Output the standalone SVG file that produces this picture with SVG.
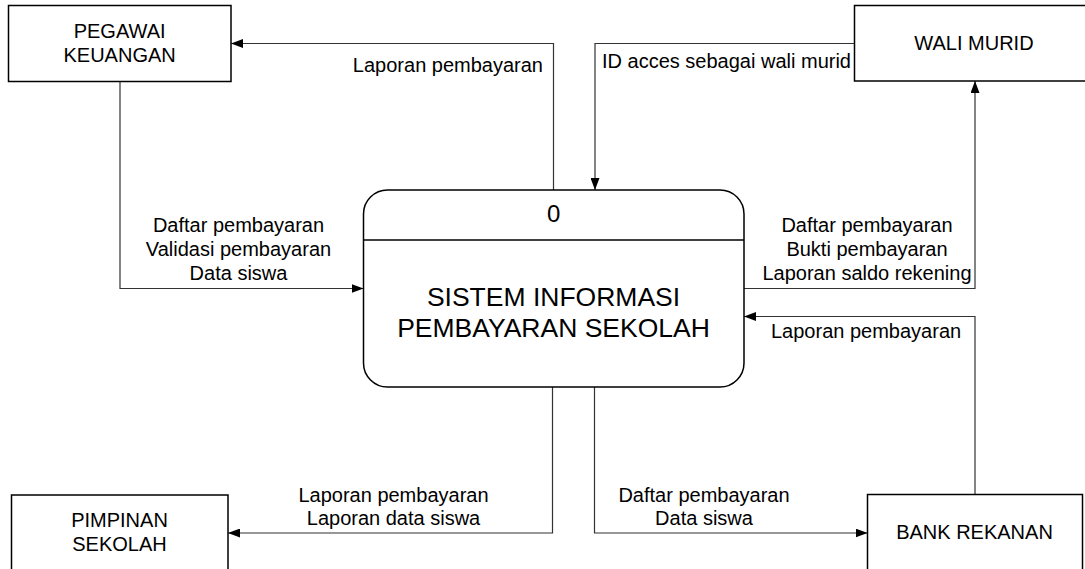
<svg xmlns="http://www.w3.org/2000/svg" width="1085" height="569" viewBox="0 0 1085 569">
  <style>
    .box { fill: #ffffff; stroke: #000000; stroke-width: 1.5; }
    .flow { fill: none; stroke: #333333; stroke-width: 1.2; marker-end: url(#arrow); }
    .lbl { font-family: "Liberation Sans", Arial, sans-serif; font-size: 20px; fill: #000000; }
    .mid { text-anchor: middle; }
    .proc { font-family: "Liberation Sans", Arial, sans-serif; font-size: 26.5px; fill: #000000; text-anchor: middle; }
  </style>
  <defs>
    <marker id="arrow" markerUnits="userSpaceOnUse" markerWidth="12" markerHeight="9" refX="12" refY="4.5" orient="auto">
      <path d="M0,0 L12,4.5 L0,9 Z" fill="#000000"/>
    </marker>
  </defs>

  <rect width="1085" height="569" fill="#ffffff"/>

  <!-- data flows -->
  <g id="connectors">
    <path class="flow" d="M553.5,190 V43.5 H231"/>
    <path class="flow" d="M854.5,43.5 H595 V190"/>
    <path class="flow" d="M120,82 V288.5 H363.5"/>
    <path class="flow" d="M744,288.5 H975 V81"/>
    <path class="flow" d="M975,494.5 V316.5 H744"/>
    <path class="flow" d="M552.5,387 V533 H228"/>
    <path class="flow" d="M594.5,387 V533 H867.5"/>

    <text class="lbl" x="543" y="72.3" text-anchor="end">Laporan pembayaran</text>
    <text class="lbl" x="602" y="68.3">ID acces sebagai wali murid</text>

    <text class="lbl mid" x="238.5" y="232.3">Daftar pembayaran</text>
    <text class="lbl mid" x="238.5" y="256">Validasi pembayaran</text>
    <text class="lbl mid" x="238.5" y="280">Data siswa</text>

    <text class="lbl mid" x="867" y="232.3">Daftar pembayaran</text>
    <text class="lbl mid" x="867" y="256">Bukti pembayaran</text>
    <text class="lbl mid" x="867" y="280">Laporan saldo rekening</text>

    <text class="lbl" x="771" y="338.3">Laporan pembayaran</text>

    <text class="lbl mid" x="393.5" y="501.7">Laporan pembayaran</text>
    <text class="lbl mid" x="393.5" y="525">Laporan data siswa</text>

    <text class="lbl mid" x="704" y="501.7">Daftar pembayaran</text>
    <text class="lbl mid" x="704" y="525">Data siswa</text>
  </g>

  <!-- process 0 -->
  <g id="process-0">
    <rect class="box" x="363.5" y="190" width="380.5" height="197" rx="24" ry="24"/>
    <line x1="363.5" y1="240" x2="744" y2="240" stroke="#000000" stroke-width="1.5"/>
    <text class="proc" x="553.7" y="221.7" style="font-size:24px">0</text>
    <text class="proc" x="553.5" y="305.7">SISTEM INFORMASI</text>
    <text class="proc" x="553.5" y="337.3">PEMBAYARAN SEKOLAH</text>
  </g>

  <!-- external entities -->
  <g id="pegawai-keuangan">
    <rect class="box" x="8.5" y="5.5" width="222.5" height="76"/>
    <text class="lbl mid" x="119.6" y="38.3">PEGAWAI</text>
    <text class="lbl mid" x="119.6" y="61.7">KEUANGAN</text>
  </g>

  <g id="wali-murid">
    <rect class="box" x="854.5" y="5.5" width="240" height="75.5"/>
    <text class="lbl mid" x="974" y="50">WALI MURID</text>
  </g>

  <g id="pimpinan-sekolah">
    <rect class="box" x="11.5" y="495" width="216.5" height="100"/>
    <text class="lbl mid" x="119.5" y="526.7">PIMPINAN</text>
    <text class="lbl mid" x="119.5" y="551">SEKOLAH</text>
  </g>

  <g id="bank-rekanan">
    <rect class="box" x="867.5" y="494.5" width="215" height="100"/>
    <text class="lbl mid" x="974.5" y="539">BANK REKANAN</text>
  </g>
</svg>
